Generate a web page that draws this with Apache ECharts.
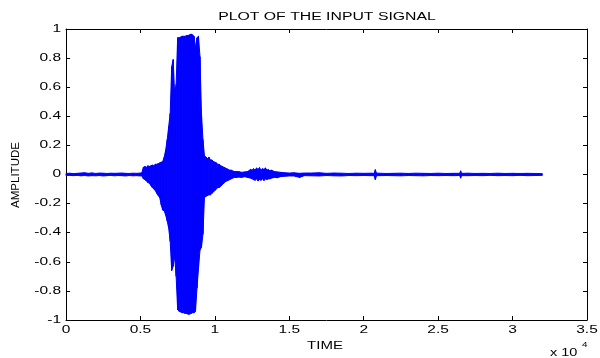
<!DOCTYPE html>
<html>
<head>
<meta charset="utf-8">
<script src="https://cdn.jsdelivr.net/npm/echarts@6/dist/echarts.min.js"></script>
<style>
  html, body { margin: 0; padding: 0; background: #fff; }
  #main { width: 600px; height: 358px; }
</style>
</head>
<body>
<div id="main"></div>
<script>
// envelope of the signal: at each sample time the
// top and bottom of the blue trace
var sampleTime = [
  // quiet start
  0, 250, 500, 750, 1000, 1250, 1500, 1750, 2000, 2250, 2500, 2750, 3000, 3250, 3500, 3750, 4000, 4250, 4500, 4750, 5000,
  // burst
  5100, 5200, 5300, 5400, 5500, 5600, 5700, 5800, 5900, 6000,
  6100, 6200, 6300, 6400, 6500, 6600, 6700, 6800, 6900, 7000,
  7100, 7200, 7300, 7400, 7500, 7600, 7700, 7800, 7900, 8000,
  8100, 8200, 8300, 8400, 8500, 8600, 8700, 8800, 8900, 9000,
  9100, 9200, 9300, 9400, 9500, 9600, 9700, 9800, 9900, 10000,
  10100, 10200, 10300, 10400, 10500, 10600, 10700, 10800, 10900, 11000,
  11100, 11200, 11300, 11400, 11500,
  // ringing after the burst
  11600, 11800, 12000, 12200, 12400, 12500, 12600, 12700, 12800, 12900,
  13000, 13100, 13200, 13300, 13400, 13500, 13600, 13700, 13800, 14000,
  14200, 14400, 14700, 15000, 15300, 15700, 16000,
  // tail
  16500, 17000, 17500, 18000, 18500, 19000, 19500, 20000, 20500,
  20700, 20780, 20860,
  21000, 21500, 22000, 22500, 23000, 23500, 24000, 24500, 25000, 25500, 26000,
  26450, 26510, 26570,
  27000, 27500, 28000, 28500, 29000, 29500, 30000, 30500, 31000, 31500, 32000
];

var upperEnvelope = [
  0.007, 0.009, 0.006, 0.008, 0.01, 0.012, 0.008, 0.011, 0.007, 0.01, 0.009, 0.007, 0.009, 0.008, 0.009, 0.01, 0.008, 0.007, 0.009, 0.008, 0.01,
  0.012, 0.05, 0.055, 0.05, 0.06, 0.055, 0.06, 0.065, 0.06, 0.07,
  0.07, 0.075, 0.08, 0.085, 0.09, 0.12, 0.17, 0.24, 0.33, 0.42,
  0.74, 0.79, 0.55, 0.62, 0.94, 0.94, 0.945, 0.95, 0.95, 0.95,
  0.955, 0.955, 0.96, 0.965, 0.96, 0.95, 0.87, 0.94, 0.95, 0.81,
  0.42, 0.24, 0.13, 0.12, 0.11, 0.12, 0.1, 0.1, 0.09, 0.085,
  0.08, 0.07, 0.07, 0.06, 0.055, 0.05, 0.045, 0.04, 0.035, 0.03,
  0.03, 0.025, 0.02, 0.02, 0.02,
  0.02, 0.015, 0.018, 0.02, 0.035, 0.03, 0.04, 0.03, 0.045, 0.035,
  0.048, 0.03, 0.04, 0.035, 0.045, 0.03, 0.035, 0.025, 0.03, 0.02,
  0.018, 0.015, 0.012, 0.01, 0.012, 0.008, 0.01,
  0.01, 0.012, 0.008, 0.01, 0.009, 0.007, 0.009, 0.008, 0.009,
  0.008, 0.033, 0.009,
  0.009, 0.007, 0.008, 0.009, 0.007, 0.009, 0.008, 0.007, 0.009, 0.007, 0.008,
  0.008, 0.025, 0.008,
  0.009, 0.007, 0.008, 0.007, 0.009, 0.007, 0.008, 0.007, 0.008, 0.007, 0.006
];

var lowerEnvelope = [
  -0.007, -0.006, -0.008, -0.006, -0.009, -0.007, -0.01, -0.008, -0.009, -0.007, -0.01, -0.008, -0.006, -0.009, -0.007, -0.008, -0.01, -0.007, -0.009, -0.008, -0.01,
  -0.01, -0.03, -0.035, -0.045, -0.055, -0.06, -0.075, -0.09, -0.1, -0.11,
  -0.13, -0.145, -0.16, -0.21, -0.245, -0.25, -0.28, -0.32, -0.37, -0.46,
  -0.66, -0.63, -0.56, -0.7, -0.93, -0.94, -0.945, -0.95, -0.95, -0.955,
  -0.955, -0.96, -0.96, -0.955, -0.95, -0.95, -0.94, -0.78, -0.65, -0.52,
  -0.5, -0.41, -0.16, -0.15, -0.145, -0.14, -0.14, -0.13, -0.12, -0.11,
  -0.1, -0.09, -0.09, -0.08, -0.07, -0.06, -0.05, -0.045, -0.04, -0.035,
  -0.03, -0.025, -0.02, -0.02, -0.02,
  -0.018, -0.02, -0.015, -0.02, -0.025, -0.03, -0.035, -0.04, -0.03, -0.045,
  -0.035, -0.04, -0.03, -0.042, -0.03, -0.035, -0.03, -0.03, -0.025, -0.02,
  -0.022, -0.015, -0.012, -0.01, -0.01, -0.02, -0.008,
  -0.009, -0.01, -0.007, -0.009, -0.01, -0.007, -0.008, -0.007, -0.008,
  -0.008, -0.035, -0.008,
  -0.008, -0.007, -0.008, -0.009, -0.007, -0.008, -0.009, -0.007, -0.008, -0.007, -0.008,
  -0.007, -0.025, -0.008,
  -0.008, -0.007, -0.008, -0.006, -0.008, -0.007, -0.008, -0.006, -0.008, -0.007, -0.006
];

var xTickValues = [0, 5000, 10000, 15000, 20000, 25000, 30000, 35000];
var xTickLabels = ['0', '0.5', '1', '1.5', '2', '2.5', '3', '3.5'];
var yTickValues = [-1, -0.8, -0.6, -0.4, -0.2, 0, 0.2, 0.4, 0.6, 0.8, 1];
var yTickLabels = ['-1', '-0.8', '-0.6', '-0.4', '-0.2', '0', '0.2', '0.4', '0.6', '0.8', '1'];

var traceData = sampleTime.map(function (t, i) {
  return [t, upperEnvelope[i], lowerEnvelope[i]];
});

// fill the trace between the top and bottom envelope, one slab per reading
function renderTrace(params, api) {
  var i = params.dataIndex;
  if (i >= sampleTime.length - 1) return null;
  var pts = [
    api.coord([sampleTime[i], upperEnvelope[i]]),
    api.coord([sampleTime[i + 1], upperEnvelope[i + 1]]),
    api.coord([sampleTime[i + 1], lowerEnvelope[i + 1]]),
    api.coord([sampleTime[i], lowerEnvelope[i]])
  ];
  return {
    type: 'polygon',
    shape: { points: pts },
    style: { fill: '#0000ff', stroke: '#0000ff', lineWidth: 1 }
  };
}

var font = 'Arial, "Liberation Sans", sans-serif';
var axisLine = { show: true, onZero: false, lineStyle: { color: '#000', width: 1 } };
var tick = { show: true, inside: true, length: 4, lineStyle: { color: '#000' } };

var chart = echarts.init(document.getElementById('main'));
chart.setOption({
  animation: false,
  backgroundColor: '#fff',
  grid: { left: 66, right: 13, top: 29, bottom: 38 },
  xAxis: [
    {
      type: 'value', position: 'bottom', min: 0, max: 35000, interval: 5000,
      axisLine: axisLine, axisTick: tick, splitLine: { show: false },
      axisLabel: { show: false }
    },
    {
      type: 'value', position: 'top', min: 0, max: 35000, interval: 5000,
      axisLine: axisLine, axisTick: tick, splitLine: { show: false },
      axisLabel: { show: false }
    }
  ],
  yAxis: [
    {
      type: 'value', position: 'left', min: -1, max: 1, interval: 0.2,
      axisLine: axisLine, axisTick: tick, splitLine: { show: false },
      axisLabel: { show: false }
    },
    {
      type: 'value', position: 'right', min: -1, max: 1, interval: 0.2,
      axisLine: axisLine, axisTick: tick, splitLine: { show: false },
      axisLabel: { show: false }
    }
  ],
  series: [{
    type: 'custom',
    xAxisIndex: 0,
    yAxisIndex: 0,
    data: traceData,
    encode: { x: 0, y: [1, 2] },
    renderItem: renderTrace,
    z: 1
  }]
});

// the picture is stretched sideways, so the text is too: tick labels are
// placed from the axis scales and widened like the rest
function label(text, x, y, size, align, sx) {
  return {
    type: 'text', x: x, y: y, scaleX: sx,
    style: { text: text, fill: '#000', font: size + 'px ' + font, textAlign: align, textVerticalAlign: 'middle' }
  };
}

var texts = [
  label('PLOT OF THE INPUT SIGNAL', 327, 17, 10, 'center', 1.58),
  label('TIME', 325, 346, 10, 'center', 1.5),
  label('x 10', 550, 353, 10, 'left', 1.45),
  label('4', 582, 345, 7, 'left', 1.4),
  {
    type: 'text', x: 15.5, y: 175, rotation: Math.PI / 2,
    style: { text: 'AMPLITUDE', fill: '#000', font: '11.5px ' + font, textAlign: 'center', textVerticalAlign: 'middle' }
  }
];
var bottomY = chart.convertToPixel({ yAxisIndex: 0 }, -1);
xTickValues.forEach(function (v, k) {
  texts.push(label(xTickLabels[k], chart.convertToPixel({ xAxisIndex: 0 }, v), bottomY + 10.5, 10, 'center', 1.55));
});
var leftX = chart.convertToPixel({ xAxisIndex: 0 }, 0);
yTickValues.forEach(function (v, k) {
  texts.push(label(yTickLabels[k], leftX - 5, chart.convertToPixel({ yAxisIndex: 0 }, v), 10, 'right', 1.55));
});
chart.setOption({ graphic: texts });
</script>
</body>
</html>
